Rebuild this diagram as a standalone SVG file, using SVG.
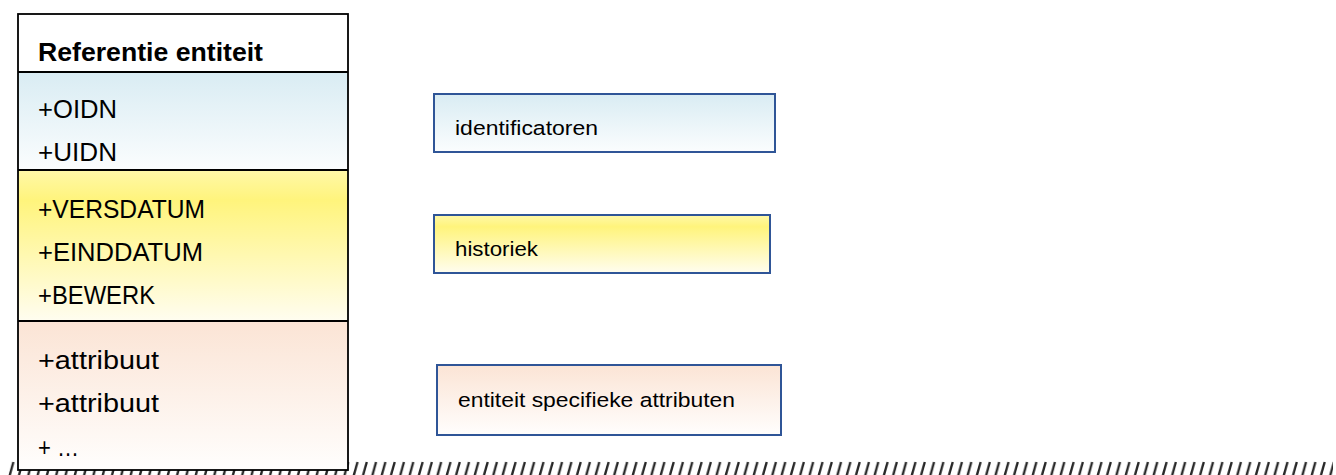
<svg xmlns="http://www.w3.org/2000/svg" width="1336" height="475" viewBox="0 0 1336 475">
  <style>
    .t { font-family: "Liberation Sans", Arial, sans-serif; fill: #000; }
    .item { font-size: 25px; }
    .hdr { font-size: 25px; font-weight: bold; }
    .lbl { font-size: 20.5px; }
    .legend { stroke: #2F5597; stroke-width: 2; }
    .sep { stroke: #000; stroke-width: 2; }
  </style>
  <defs>
    <linearGradient id="gBlue" x1="0" y1="0" x2="0" y2="1">
      <stop offset="0" stop-color="#D9ECF3"/>
      <stop offset="1" stop-color="#FBFDFE"/>
    </linearGradient>
    <linearGradient id="gYellow" x1="0" y1="0" x2="0" y2="1">
      <stop offset="0" stop-color="#FFF8A8"/>
      <stop offset="0.2" stop-color="#FFF47C"/>
      <stop offset="1" stop-color="#FFFDF0"/>
    </linearGradient>
    <linearGradient id="gPeach" x1="0" y1="0" x2="0" y2="1">
      <stop offset="0" stop-color="#FBE4D5"/>
      <stop offset="1" stop-color="#FFFEFD"/>
    </linearGradient>
    <pattern id="hatch" patternUnits="userSpaceOnUse" x="8" y="461" width="9.3" height="14">
      <line x1="1.6" y1="14.6" x2="5.4" y2="1" stroke="#262626" stroke-width="2.3"/>
    </pattern>
  </defs>

  <g id="ground">
    <rect x="8" y="461" width="1325" height="14" fill="url(#hatch)"/>
  </g>

  <g id="entity">
    <rect x="18" y="14" width="330" height="58" fill="#FFFFFF"/>
    <rect x="18" y="72" width="330" height="98" fill="url(#gBlue)"/>
    <rect x="18" y="170" width="330" height="151" fill="url(#gYellow)"/>
    <rect x="18" y="321" width="330" height="149" fill="url(#gPeach)"/>
    <line class="sep" x1="18" y1="72" x2="348" y2="72"/>
    <line class="sep" x1="18" y1="170" x2="348" y2="170"/>
    <line class="sep" x1="18" y1="321" x2="348" y2="321"/>
    <rect x="18" y="14" width="330" height="456" fill="none" stroke="#000" stroke-width="1.8"/>
    <text class="t hdr" x="38" y="61" textLength="225" lengthAdjust="spacingAndGlyphs">Referentie entiteit</text>
    <text class="t item" x="38" y="118" textLength="79" lengthAdjust="spacingAndGlyphs">+OIDN</text>
    <text class="t item" x="38" y="161" textLength="79" lengthAdjust="spacingAndGlyphs">+UIDN</text>
    <text class="t item" x="38" y="218" textLength="167" lengthAdjust="spacingAndGlyphs">+VERSDATUM</text>
    <text class="t item" x="38" y="261" textLength="165" lengthAdjust="spacingAndGlyphs">+EINDDATUM</text>
    <text class="t item" x="38" y="304" textLength="117" lengthAdjust="spacingAndGlyphs">+BEWERK</text>
    <text class="t item" x="38" y="369" textLength="121" lengthAdjust="spacingAndGlyphs">+attribuut</text>
    <text class="t item" x="38" y="412" textLength="121" lengthAdjust="spacingAndGlyphs">+attribuut</text>
    <text class="t item" x="38" y="456" textLength="41" lengthAdjust="spacingAndGlyphs">+ …</text>
  </g>

  <g id="legend-identificatoren">
    <rect class="legend" x="434" y="94" width="341" height="58" fill="url(#gBlue)"/>
    <text class="t lbl" x="455" y="135" textLength="143" lengthAdjust="spacingAndGlyphs">identificatoren</text>
  </g>

  <g id="legend-historiek">
    <rect class="legend" x="434" y="215" width="336" height="58" fill="url(#gYellow)"/>
    <text class="t lbl" x="455" y="256" textLength="83" lengthAdjust="spacingAndGlyphs">historiek</text>
  </g>

  <g id="legend-attributen">
    <rect class="legend" x="437" y="365" width="344" height="70" fill="url(#gPeach)"/>
    <text class="t lbl" x="458" y="407" textLength="277" lengthAdjust="spacingAndGlyphs">entiteit specifieke attributen</text>
  </g>
</svg>
